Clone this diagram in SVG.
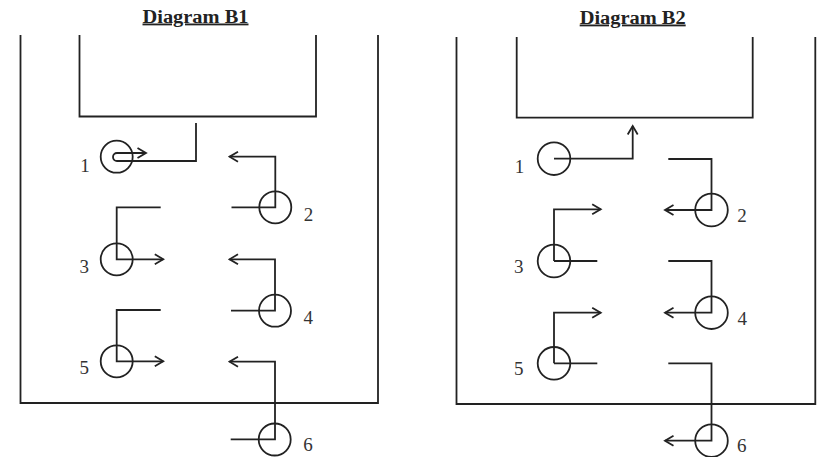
<svg xmlns="http://www.w3.org/2000/svg" width="819" height="457" viewBox="0 0 819 457">
<defs>
<marker id="arr" markerUnits="userSpaceOnUse" markerWidth="12" markerHeight="14" viewBox="0 0 12 14" refX="10" refY="7" orient="auto">
<path d="M1.5,2 L10,7 L1.5,12" fill="none" stroke="#222" stroke-width="1.8"/>
</marker>
</defs>
<style>
.ln{fill:none;stroke:#222;stroke-width:1.8}
.ar{fill:none;stroke:#222;stroke-width:1.8;marker-end:url(#arr)}
.c{fill:none;stroke:#222;stroke-width:1.8}
.lb{font-family:"Liberation Serif","Times New Roman",serif;font-size:19px;fill:#333;text-anchor:middle}
.tt{font-family:"Liberation Serif","Times New Roman",serif;font-size:18.5px;font-weight:bold;fill:#222;text-anchor:middle;text-decoration:underline}
</style>
<rect width="819" height="457" fill="#fff"/>

<g id="diagramB1">
<text class="tt" x="195.5" y="22.5" textLength="106" lengthAdjust="spacingAndGlyphs">Diagram B1</text>
<path id="b1-outer" class="ln" d="M20.5,35 V403 H378 V35"/>
<path id="b1-inner" class="ln" d="M79.5,35 V116.5 H316 V35"/>
<g id="b1-n1"><circle class="c" cx="116.7" cy="156.7" r="16"/><text class="lb" x="85" y="172">1</text></g>
<g id="b1-n2"><circle class="c" cx="275.3" cy="207.3" r="16"/><text class="lb" x="308.5" y="221">2</text></g>
<g id="b1-n3"><circle class="c" cx="116.7" cy="259.3" r="16"/><text class="lb" x="84.3" y="273">3</text></g>
<g id="b1-n4"><circle class="c" cx="275" cy="310.7" r="16"/><text class="lb" x="308.3" y="324">4</text></g>
<g id="b1-n5"><circle class="c" cx="116.7" cy="361.3" r="16"/><text class="lb" x="84.3" y="374">5</text></g>
<g id="b1-n6"><circle class="c" cx="274.7" cy="439.5" r="16"/><text class="lb" x="308" y="450.5">6</text></g>
<g id="b1-connectors">
<path class="ar" d="M196,123 V161 H117 A4,4 0 0 1 117,153 H146"/>
<path class="ar" d="M231.5,207.3 H275.3 V156.7 H229.5"/>
<path class="ar" d="M160.7,207.3 H116.7 V259.3 H163.3"/>
<path class="ar" d="M231,310.7 H275 V259.3 H229.5"/>
<path class="ar" d="M160.7,310 H116.7 V361.3 H163.3"/>
<path class="ar" d="M230.7,439.3 H275 V361.7 H229.5"/>
</g>
</g>

<g id="diagramB2">
<text class="tt" x="632.7" y="23.5" textLength="106" lengthAdjust="spacingAndGlyphs">Diagram B2</text>
<path id="b2-outer" class="ln" d="M456.5,37 V404 H815.3 V37"/>
<path id="b2-inner" class="ln" d="M516.7,37 V117.7 H752.7 V37"/>
<g id="b2-n1"><circle class="c" cx="554" cy="158.7" r="16.3"/><text class="lb" x="519.5" y="172.7">1</text></g>
<g id="b2-n2"><circle class="c" cx="711.5" cy="210" r="16.3"/><text class="lb" x="742" y="221.7">2</text></g>
<g id="b2-n3"><circle class="c" cx="554" cy="261" r="16.3"/><text class="lb" x="518.7" y="273.3">3</text></g>
<g id="b2-n4"><circle class="c" cx="711.5" cy="312.7" r="16.3"/><text class="lb" x="742.3" y="325">4</text></g>
<g id="b2-n5"><circle class="c" cx="554" cy="363.3" r="16.3"/><text class="lb" x="518.7" y="375">5</text></g>
<g id="b2-n6"><circle class="c" cx="711.5" cy="440.7" r="16.3"/><text class="lb" x="741.7" y="451.7">6</text></g>
<g id="b2-connectors">
<path class="ar" d="M554,158.7 H632.7 V126"/>
<path class="ar" d="M668.3,159 H711.5 V210 H665"/>
<path class="ar" d="M554,261 V209.3 H600.7"/>
<path class="ln" d="M554,261 H597.3"/>
<path class="ar" d="M668.3,261 H711.5 V312.7 H665"/>
<path class="ar" d="M554,363.3 V312.7 H600.7"/>
<path class="ln" d="M554,363.3 H597.3"/>
<path class="ar" d="M668.3,363.3 H711.5 V440.7 H665"/>
</g>
</g>
</svg>
